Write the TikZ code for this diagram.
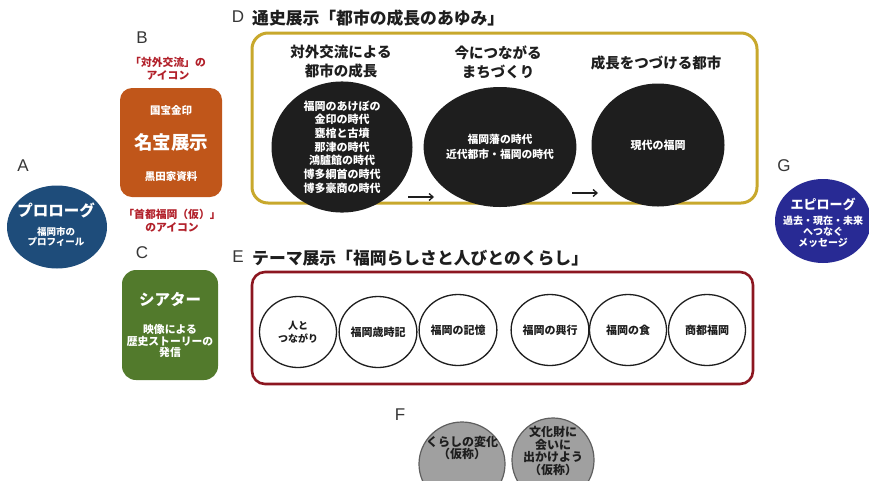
\documentclass[tikz,border=0pt]{standalone}
\usepackage{fontspec}
\setmainfont{Noto Sans CJK JP}
\newfontfamily\latinfont{Liberation Sans}
\usetikzlibrary{shapes.geometric,arrows.meta}
\definecolor{ablue}{RGB}{30,76,122}
\definecolor{borange}{RGB}{192,86,26}
\definecolor{redtxt}{RGB}{178,32,42}
\definecolor{cgreen}{RGB}{82,122,44}
\definecolor{dgold}{RGB}{200,168,44}
\definecolor{ered}{RGB}{140,22,32}
\definecolor{fgray}{RGB}{160,160,160}
\definecolor{fborder}{RGB}{95,95,95}
\definecolor{gblue}{RGB}{40,42,148}
\definecolor{dblack}{RGB}{30,30,30}
\definecolor{lblgray}{RGB}{55,55,55}
\begin{document}
\begin{tikzpicture}[x=1pt,y=-1pt,
  lbl/.style={font=\latinfont\fontsize{17}{17}\selectfont, text=lblgray, inner sep=0pt},
  ttl/.style={font=\bfseries\fontsize{16.8}{17}\selectfont, anchor=west, inner sep=0pt, text=dblack},
  wtxt/.style={text=white, font=\bfseries\fontsize{10.5}{11}\selectfont, align=center, inner sep=0pt},
  rtxt/.style={text=redtxt, font=\bfseries\fontsize{10.8}{13}\selectfont, align=center, inner sep=0pt},
  hd/.style={text=dblack, font=\bfseries\fontsize{14.5}{19}\selectfont, align=center, inner sep=0pt},
  blk/.style={ellipse, fill=dblack, inner sep=0pt, text=white, align=center, font=\bfseries\fontsize{11}{13.7}\selectfont},
  wc/.style={ellipse, draw=dblack, line width=1.3pt, fill=white, minimum width=77pt, minimum height=71pt, inner sep=0pt, align=center, font=\bfseries\fontsize{11}{13}\selectfont, text=dblack},
  gc/.style={ellipse, draw=fborder, line width=1.2pt, fill=fgray, inner sep=0pt, align=center, font=\bfseries\fontsize{12}{12.7}\selectfont, text=dblack},
  arr/.style={-{Straight Barb[length=4pt,width=7pt]}, line width=1.3pt, draw=dblack}
]
\useasboundingbox[fill=white] (0,0) rectangle (869,480);

% letter labels
\node[lbl] (lA) at (23,166) {A};
\node[lbl] (lB) at (142,38) {B};
\node[lbl] (lC) at (142,253) {C};
\node[lbl] (lD) at (238,17) {D};
\node[lbl] (lE) at (238,257) {E};
\node[lbl] (lF) at (400,415) {F};
\node[lbl] (lG) at (784,166) {G};

% A prologue
\node[ellipse, fill=ablue, minimum width=100pt, minimum height=83pt, inner sep=0pt] (A) at (57,227) {};
\node[wtxt, font=\bfseries\fontsize{15.5}{16}\selectfont] (At) at (56,210) {プロローグ};
\node[wtxt, font=\bfseries\fontsize{9.5}{10.5}\selectfont] (As) at (56,237) {福岡市の\\プロフィール};

% B
\node[rtxt] (Br1) at (168,69) {「対外交流」の\\アイコン};
\node[rectangle, rounded corners=12pt, fill=borange, minimum width=102pt, minimum height=109pt, inner sep=0pt] (B) at (171,142.5) {};
\node[wtxt] (Bt1) at (171,110) {国宝金印};
\node[wtxt, font=\bfseries\fontsize{18.5}{19}\selectfont] (Bt2) at (171,142) {名宝展示};
\node[wtxt] (Bt3) at (171,177) {黒田家資料};
\node[rtxt] (Br2) at (172,221) {「首都福岡（仮）」\\のアイコン};

% C
\node[rectangle, rounded corners=14pt, fill=cgreen, minimum width=96pt, minimum height=110pt, inner sep=0pt] (C) at (170,325) {};
\node[wtxt, font=\bfseries\fontsize{15.5}{16}\selectfont] (Ct) at (170,300) {シアター};
\node[wtxt, font=\bfseries\fontsize{10.8}{11.5}\selectfont] (Cs) at (170,341) {映像による\\歴史ストーリーの\\発信};

% D
\node[ttl] (Dt) at (252,18) {通史展示「都市の成長のあゆみ」};
\node[rectangle, rounded corners=16pt, draw=dgold, line width=3pt, minimum width=505pt, minimum height=170pt, inner sep=0pt] (D) at (504.5,118) {};
\node[hd] (Dh1) at (341,62) {対外交流による\\都市の成長};
\node[hd] (Dh2) at (498,62) {今につながる\\まちづくり};
\node[hd] (Dh3) at (656,63) {成長をつづける都市};
\node[blk, minimum width=141pt, minimum height=118pt] (D1) at (342,147) {福岡のあけぼの\\金印の時代\\甕棺と古墳\\那津の時代\\鴻臚館の時代\\博多綱首の時代\\博多豪商の時代};
\node[blk, minimum width=135pt, minimum height=120pt, font=\bfseries\fontsize{10.8}{15}\selectfont] (D2) at (500,147) {福岡藩の時代\\近代都市・福岡の時代};
\node[blk, minimum width=133pt, minimum height=123pt] (D3) at (658,145) {現代の福岡};
\coordinate (a1s) at (408,197);
\coordinate (a1e) at (434,197);
\coordinate (a2s) at (572,193);
\coordinate (a2e) at (598,193);
\draw[arr] (a1s) -- (a1e);
\draw[arr] (a2s) -- (a2e);

% E
\node[ttl] (Et) at (252,258) {テーマ展示「福岡らしさと人びとのくらし」};
\node[rectangle, rounded corners=13pt, draw=ered, line width=2.6pt, minimum width=501pt, minimum height=112pt, inner sep=0pt] (E) at (502.5,328) {};
\node[wc, font=\bfseries\fontsize{10}{12.5}\selectfont] (E1) at (298,332) {人と\\つながり};
\node[wc] (E2) at (378,332) {福岡歳時記};
\node[wc] (E3) at (458,330) {福岡の記憶};
\node[wc] (E4) at (550,330) {福岡の興行};
\node[wc] (E5) at (628,330) {福岡の食};
\node[wc] (E6) at (707,330) {商都福岡};

% F
\node[gc, minimum width=86pt, minimum height=84pt] (F1) at (462,464) {};
\node[gc, draw=none, fill=none] (F1t) at (462,448) {くらしの変化\\（仮称）};
\node[gc, minimum width=82pt, minimum height=84pt] (F2) at (553,460) {};
\node[gc, draw=none, fill=none] (F2t) at (553,451) {文化財に\\会いに\\出かけよう\\（仮称）};

% G
\node[ellipse, fill=gblue, minimum width=96pt, minimum height=84pt, inner sep=0pt] (G) at (823,221) {};
\node[wtxt, font=\bfseries\fontsize{13}{13}\selectfont] (Gt) at (823,204) {エピローグ};
\node[wtxt, font=\bfseries\fontsize{10}{10.8}\selectfont] (Gs) at (823,232) {過去・現在・未来\\へつなぐ\\メッセージ};
\end{tikzpicture}
\end{document}
